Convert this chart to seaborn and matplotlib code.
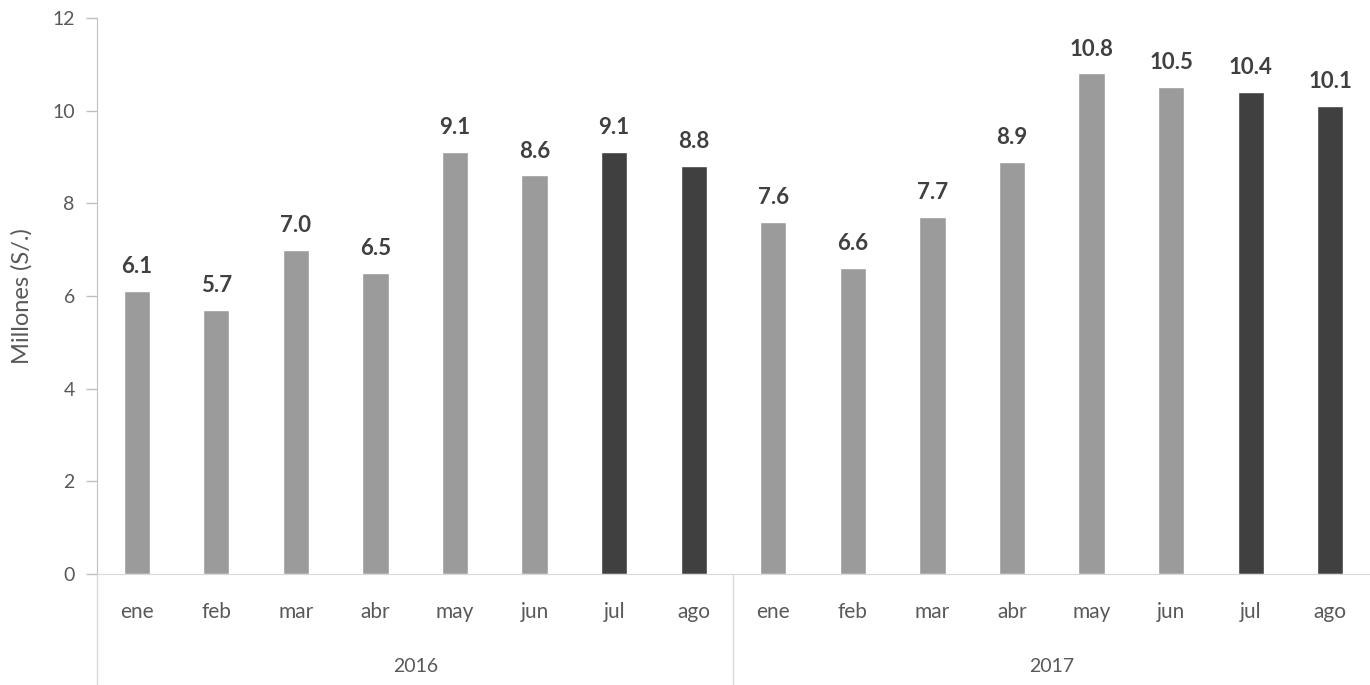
import matplotlib
matplotlib.use("Agg")
import matplotlib.pyplot as plt
import seaborn as sns
import pandas as pd

# data
years = ["2016", "2017"]
months = ["ene", "feb", "mar", "abr", "may", "jun", "jul", "ago"]
values_2016 = [6.1, 5.7, 7.0, 6.5, 9.1, 8.6, 9.1, 8.8]
values_2017 = [7.6, 6.6, 7.7, 8.9, 10.8, 10.5, 10.4, 10.1]
highlight = ["jul", "ago"]

rows = []
for yr, vals in zip(years, [values_2016, values_2017]):
    for m, v in zip(months, vals):
        rows.append({"key": f"{yr}-{m}", "year": yr, "month": m, "value": v})
df = pd.DataFrame(rows)

light = "#9b9b9b"
dark = "#404040"
colors = [dark if m in highlight else light for m in df["month"]]

sns.set_style("white")
plt.rcParams["font.family"] = ["Lato", "DejaVu Sans"]

fig = plt.figure(figsize=(13.7, 6.85), dpi=100)
ax = fig.add_axes([0.0708, 0.162, 0.9292, 0.812])

sns.barplot(data=df, x="key", y="value", hue="key", palette=colors,
            legend=False, width=0.33, saturation=1, ax=ax)

ax.set_ylim(0, 12)
ax.set_yticks(range(0, 13, 2))
ax.set_xlim(-0.5, len(df) - 0.5)
ax.set_ylabel("Millones (S/.)", fontsize=17, color="#595959", labelpad=14)
ax.set_xlabel("")
ax.tick_params(axis="y", labelsize=14, labelcolor="#595959", length=8,
               color="#bfbfbf", width=1, left=True, pad=8)
ax.set_xticks(range(len(df)))
ax.set_xticklabels(df["month"], fontsize=15, color="#595959")
ax.tick_params(axis="x", length=0, pad=20)

for s in ["top", "right"]:
    ax.spines[s].set_visible(False)
ax.spines["left"].set_color("#bfbfbf")
ax.spines["bottom"].set_color("#d9d9d9")

# value labels
for i, v in enumerate(df["value"]):
    ax.text(i, v + 0.3, f"{v:.1f}", ha="center", va="bottom",
            fontsize=16, fontweight="bold", color="#404040")

# year group labels and separators
trans = ax.get_xaxis_transform()
for k, yr in enumerate(years):
    ax.text(k * 8 + 3.5, -0.167, yr, transform=trans, ha="center", va="center",
            fontsize=14, color="#595959")
for xs in [-0.5, 7.5]:
    ax.plot([xs, xs], [0, -0.21], transform=trans, color="#d9d9d9",
            lw=1, clip_on=False)

fig.savefig("out.png", dpi=100)
